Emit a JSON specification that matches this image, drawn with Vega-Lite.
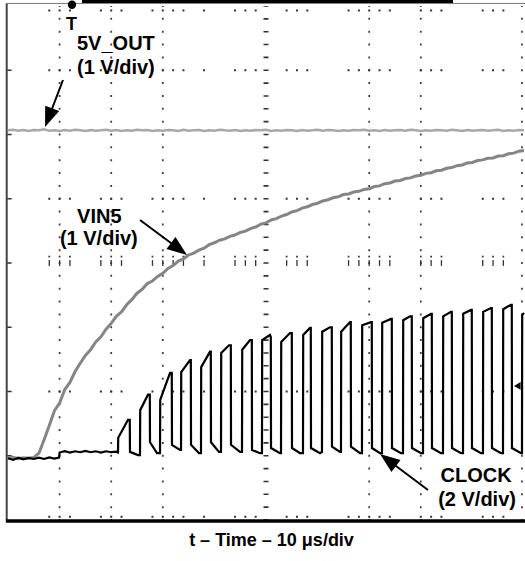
{
  "$schema": "https://vega.github.io/schema/vega-lite/v6.json",
  "width": 516,
  "height": 514,
  "autosize": {"type": "none"},
  "padding": {"left": 8, "top": 6, "right": 1, "bottom": 41},
  "background": "white",
  "config": {"view": {"stroke": null}, "font": "Liberation Sans",
    "axisX": {"domain": false, "ticks": false, "labels": false, "grid": false}},
  "datasets": {
    "gx": [{"t":8},{"t":10},{"t":12},{"t":18},{"t":20},{"t":22},{"t":28},{"t":30},{"t":32},{"t":34},{"t":38},{"t":44},{"t":46},{"t":48},{"t":54},{"t":56},{"t":58},{"t":66},{"t":68},{"t":70},{"t":72},{"t":74},{"t":80},{"t":82},{"t":84},{"t":92},{"t":94},{"t":96}],
    "v5": [{"t":0,"d":6.065},{"t":1,"d":6.075},{"t":2,"d":6.06},{"t":3,"d":6.07},{"t":4,"d":6.055},{"t":5,"d":6.07},{"t":6,"d":6.065},{"t":7,"d":6.08},{"t":8,"d":6.06},{"t":9,"d":6.065},{"t":10,"d":6.055},{"t":11,"d":6.07},{"t":12,"d":6.06},{"t":13,"d":6.075},{"t":14,"d":6.065},{"t":15,"d":6.055},{"t":16,"d":6.07},{"t":17,"d":6.06},{"t":18,"d":6.065},{"t":19,"d":6.075},{"t":20,"d":6.06},{"t":21,"d":6.07},{"t":22,"d":6.055},{"t":23,"d":6.065},{"t":24,"d":6.06},{"t":25,"d":6.075},{"t":26,"d":6.065},{"t":27,"d":6.07},{"t":28,"d":6.055},{"t":29,"d":6.065},{"t":30,"d":6.06},{"t":31,"d":6.07},{"t":32,"d":6.065},{"t":33,"d":6.055},{"t":34,"d":6.075},{"t":35,"d":6.06},{"t":36,"d":6.065},{"t":37,"d":6.07},{"t":38,"d":6.055},{"t":39,"d":6.065},{"t":40,"d":6.06},{"t":41,"d":6.075},{"t":42,"d":6.065},{"t":43,"d":6.06},{"t":44,"d":6.07},{"t":45,"d":6.055},{"t":46,"d":6.065},{"t":47,"d":6.06},{"t":48,"d":6.07},{"t":49,"d":6.065},{"t":50,"d":6.075},{"t":51,"d":6.055},{"t":52,"d":6.065},{"t":53,"d":6.06},{"t":54,"d":6.07},{"t":55,"d":6.065},{"t":56,"d":6.055},{"t":57,"d":6.07},{"t":58,"d":6.06},{"t":59,"d":6.065},{"t":60,"d":6.075},{"t":61,"d":6.06},{"t":62,"d":6.07},{"t":63,"d":6.065},{"t":64,"d":6.055},{"t":65,"d":6.065},{"t":66,"d":6.06},{"t":67,"d":6.07},{"t":68,"d":6.065},{"t":69,"d":6.075},{"t":70,"d":6.06},{"t":71,"d":6.065},{"t":72,"d":6.055},{"t":73,"d":6.07},{"t":74,"d":6.06},{"t":75,"d":6.065},{"t":76,"d":6.07},{"t":77,"d":6.06},{"t":78,"d":6.075},{"t":79,"d":6.065},{"t":80,"d":6.055},{"t":81,"d":6.065},{"t":82,"d":6.06},{"t":83,"d":6.07},{"t":84,"d":6.065},{"t":85,"d":6.06},{"t":86,"d":6.075},{"t":87,"d":6.065},{"t":88,"d":6.055},{"t":89,"d":6.07},{"t":90,"d":6.06},{"t":91,"d":6.065},{"t":92,"d":6.07},{"t":93,"d":6.06},{"t":94,"d":6.065},{"t":95,"d":6.075},{"t":96,"d":6.055},{"t":97,"d":6.065},{"t":98,"d":6.06},{"t":99,"d":6.07},{"t":100,"d":6.065}],
    "vin": [{"t":0,"d":0.96},{"t":1,"d":0.975},{"t":2,"d":0.955},{"t":3,"d":0.97},{"t":4,"d":0.96},{"t":5,"d":0.975},{"t":6,"d":1.04},{"t":7,"d":1.25},{"t":8,"d":1.47},{"t":9,"d":1.7},{"t":10,"d":1.82},{"t":11,"d":2.03},{"t":12,"d":2.14},{"t":13,"d":2.31},{"t":14,"d":2.44},{"t":15,"d":2.56},{"t":16,"d":2.65},{"t":17,"d":2.77},{"t":18,"d":2.85},{"t":19,"d":2.97},{"t":20,"d":3.06},{"t":21,"d":3.17},{"t":22,"d":3.24},{"t":23,"d":3.35},{"t":24,"d":3.43},{"t":25,"d":3.53},{"t":26,"d":3.59},{"t":27,"d":3.68},{"t":28,"d":3.72},{"t":29,"d":3.79},{"t":30,"d":3.84},{"t":31,"d":3.915},{"t":32,"d":3.96},{"t":33,"d":4.03},{"t":34,"d":4.065},{"t":35,"d":4.125},{"t":36,"d":4.155},{"t":37,"d":4.2},{"t":38,"d":4.23},{"t":39,"d":4.285},{"t":40,"d":4.315},{"t":41,"d":4.355},{"t":42,"d":4.375},{"t":43,"d":4.415},{"t":44,"d":4.435},{"t":45,"d":4.475},{"t":46,"d":4.495},{"t":47,"d":4.535},{"t":48,"d":4.56},{"t":49,"d":4.605},{"t":50,"d":4.625},{"t":51,"d":4.67},{"t":52,"d":4.69},{"t":53,"d":4.73},{"t":54,"d":4.755},{"t":55,"d":4.795},{"t":56,"d":4.815},{"t":57,"d":4.855},{"t":58,"d":4.875},{"t":59,"d":4.91},{"t":60,"d":4.93},{"t":61,"d":4.965},{"t":62,"d":4.985},{"t":63,"d":5.015},{"t":64,"d":5.03},{"t":65,"d":5.065},{"t":66,"d":5.075},{"t":67,"d":5.105},{"t":68,"d":5.115},{"t":69,"d":5.145},{"t":70,"d":5.155},{"t":71,"d":5.19},{"t":72,"d":5.2},{"t":73,"d":5.235},{"t":74,"d":5.245},{"t":75,"d":5.275},{"t":76,"d":5.285},{"t":77,"d":5.315},{"t":78,"d":5.325},{"t":79,"d":5.355},{"t":80,"d":5.365},{"t":81,"d":5.395},{"t":82,"d":5.405},{"t":83,"d":5.435},{"t":84,"d":5.445},{"t":85,"d":5.475},{"t":86,"d":5.485},{"t":87,"d":5.515},{"t":88,"d":5.525},{"t":89,"d":5.555},{"t":90,"d":5.565},{"t":91,"d":5.595},{"t":92,"d":5.605},{"t":93,"d":5.63},{"t":94,"d":5.635},{"t":95,"d":5.665},{"t":96,"d":5.67},{"t":97,"d":5.7},{"t":98,"d":5.71},{"t":99,"d":5.74},{"t":100,"d":5.75}],
    "clk": [{"t":0,"d":0.96},{"t":1,"d":0.935},{"t":2,"d":0.97},{"t":3,"d":0.945},{"t":4,"d":0.965},{"t":5,"d":0.95},{"t":6,"d":0.97},{"t":7,"d":0.95},{"t":8,"d":0.975},{"t":9,"d":0.955},{"t":9.9,"d":0.97},{"t":10,"d":1.05},{"t":11,"d":1.07},{"t":12,"d":1.05},{"t":13,"d":1.07},{"t":14,"d":1.055},{"t":15,"d":1.075},{"t":16,"d":1.055},{"t":17,"d":1.07},{"t":18,"d":1.05},{"t":19,"d":1.07},{"t":20,"d":1.055},{"t":21,"d":1.065},{"t":21.3,"d":1.05},
      {"t":21.32,"d":1.05},{"t":21.36,"d":1.28},{"t":23.26,"d":1.56},{"t":23.6,"d":1.56},{"t":23.64,"d":1.06},{"t":25.19,"d":1.01},
      {"t":25.58,"d":1.01},{"t":25.62,"d":1.71},{"t":27.13,"d":1.95},{"t":27.48,"d":1.95},{"t":27.52,"d":1.21},{"t":28.88,"d":1.04},
      {"t":29.46,"d":1.04},{"t":29.5,"d":1.87},{"t":31.4,"d":2.29},{"t":31.74,"d":2.29},{"t":31.78,"d":1.17},{"t":33.33,"d":1.09},
      {"t":33.53,"d":1.09},{"t":33.57,"d":2.3},{"t":35.27,"d":2.49},{"t":35.43,"d":2.49},{"t":35.47,"d":1.17},{"t":37.02,"d":1.04},
      {"t":37.4,"d":1.04},{"t":37.44,"d":2.38},{"t":39.15,"d":2.62},{"t":39.3,"d":2.62},{"t":39.34,"d":1.21},{"t":40.89,"d":1.06},
      {"t":41.28,"d":1.06},{"t":41.32,"d":2.6},{"t":42.83,"d":2.72},{"t":43.18,"d":2.72},{"t":43.22,"d":1.17},{"t":44.96,"d":1.06},
      {"t":45.35,"d":1.06},{"t":45.39,"d":2.65},{"t":46.9,"d":2.8},{"t":47.25,"d":2.8},{"t":47.29,"d":1.09},{"t":48.84,"d":1.04},
      {"t":49.22,"d":1.04},{"t":49.26,"d":2.8},{"t":50.78,"d":2.88},{"t":50.93,"d":2.85},{"t":50.97,"d":1.12},{"t":52.71,"d":1.04},
      {"t":52.91,"d":1.04},{"t":52.95,"d":2.77},{"t":54.65,"d":2.91},{"t":55,"d":2.91},{"t":55.04,"d":1.12},{"t":56.59,"d":1.04},
      {"t":57.17,"d":1.04},{"t":57.21,"d":2.88},{"t":58.53,"d":2.99},{"t":58.68,"d":2.99},{"t":58.72,"d":1.12},{"t":60.47,"d":1.04},
      {"t":60.85,"d":1.06},{"t":60.89,"d":2.93},{"t":62.4,"d":3.0},{"t":62.75,"d":3.0},{"t":62.79,"d":1.14},{"t":64.34,"d":1.06},
      {"t":64.53,"d":1.06},{"t":64.57,"d":2.93},{"t":66.28,"d":3.08},{"t":66.43,"d":3.08},{"t":66.47,"d":1.14},{"t":68.22,"d":1.04},
      {"t":68.6,"d":1.04},{"t":68.64,"d":3.03},{"t":70.35,"d":3.08},{"t":70.5,"d":3.08},{"t":70.54,"d":1.12},{"t":72.09,"d":1.04},
      {"t":72.48,"d":1.04},{"t":72.52,"d":3.07},{"t":74.22,"d":3.13},{"t":74.38,"d":3.13},{"t":74.42,"d":1.12},{"t":76.16,"d":1.04},
      {"t":76.55,"d":1.04},{"t":76.59,"d":3.11},{"t":77.91,"d":3.17},{"t":78.25,"d":3.17},{"t":78.29,"d":1.12},{"t":80.04,"d":1.04},
      {"t":80.43,"d":1.04},{"t":80.47,"d":3.14},{"t":81.98,"d":3.21},{"t":82.13,"d":3.21},{"t":82.17,"d":1.12},{"t":83.91,"d":1.04},
      {"t":84.3,"d":1.04},{"t":84.34,"d":3.17},{"t":85.85,"d":3.24},{"t":86.01,"d":3.24},{"t":86.05,"d":1.12},{"t":87.79,"d":1.04},
      {"t":88.18,"d":1.04},{"t":88.22,"d":3.21},{"t":89.73,"d":3.27},{"t":89.88,"d":3.27},{"t":89.92,"d":1.12},{"t":91.67,"d":1.04},
      {"t":92.05,"d":1.04},{"t":92.09,"d":3.24},{"t":93.6,"d":3.3},{"t":93.76,"d":3.3},{"t":93.8,"d":1.12},{"t":95.54,"d":1.04},
      {"t":95.93,"d":1.04},{"t":95.97,"d":3.28},{"t":97.48,"d":3.35},{"t":97.63,"d":3.35},{"t":97.67,"d":1.12},{"t":99.42,"d":1.04},
      {"t":99.61,"d":1.04},{"t":99.65,"d":3.19},{"t":100,"d":3.22}]
  },
  "layer": [
    {"data": {"values": [{"t":10},{"t":20},{"t":30},{"t":70},{"t":80},{"t":99.6}]},
     "mark": {"type": "rule", "color": "#444", "strokeWidth": 1.8, "strokeDash": [2, 10.85], "strokeDashOffset": 1},
     "encoding": {"x": {"field": "t", "type": "quantitative", "scale": {"domain": [0, 100], "nice": false, "zero": false},
        "axis": {"title": "t – Time – 10 μs/div", "domain": false, "ticks": false, "labels": false, "grid": false,
        "titleFont": "Liberation Sans", "titleFontSize": 18, "titleFontWeight": "bold", "titleColor": "black",
        "titleX": 263, "titleY": 25, "titleBaseline": "alphabetic", "titleAlign": "center"}},
                  "y": {"datum": 0, "type": "quantitative", "scale": {"domain": [0, 8], "nice": false, "zero": false}, "axis": null}, "y2": {"datum": 8}}},
    {"data": {"values": [{"t":50}]},
     "mark": {"type": "rule", "color": "#333", "strokeWidth": 5, "strokeDash": [1.6, 11.25], "strokeDashOffset": 0.8},
     "encoding": {"x": {"field": "t", "type": "quantitative"}, "y": {"datum": 0, "type": "quantitative", "axis": null}, "y2": {"datum": 8}}},
    {"data": {"name": "gx"}, "mark": {"type": "square", "size": 4, "color": "#333", "opacity": 1},
     "encoding": {"x": {"field": "t", "type": "quantitative"}, "y": {"datum": 7.93, "type": "quantitative", "axis": null}}},
    {"data": {"name": "gx"}, "mark": {"type": "square", "size": 4, "color": "#333", "opacity": 1},
     "encoding": {"x": {"field": "t", "type": "quantitative"}, "y": {"datum": 7, "type": "quantitative", "axis": null}}},
    {"data": {"name": "gx"}, "mark": {"type": "square", "size": 4, "color": "#333", "opacity": 1},
     "encoding": {"x": {"field": "t", "type": "quantitative"}, "y": {"datum": 5, "type": "quantitative", "axis": null}}},
    {"data": {"name": "gx"}, "mark": {"type": "square", "size": 4, "color": "#333", "opacity": 1},
     "encoding": {"x": {"field": "t", "type": "quantitative"}, "y": {"datum": 2, "type": "quantitative", "axis": null}}},
    {"data": {"name": "gx"}, "mark": {"type": "square", "size": 4, "color": "#333", "opacity": 1},
     "encoding": {"x": {"field": "t", "type": "quantitative"}, "y": {"datum": 0.05, "type": "quantitative", "axis": null}}},
    {"data": {"name": "gx"}, "mark": {"type": "rule", "color": "#333", "strokeWidth": 1.3},
     "encoding": {"x": {"field": "t", "type": "quantitative"}, "y": {"datum": 3.955, "type": "quantitative", "axis": null}, "y2": {"datum": 4.045}}},
    {"data": {"name": "gx"}, "mark": {"type": "square", "size": 3, "color": "#333", "opacity": 1},
     "encoding": {"x": {"field": "t", "type": "quantitative"}, "y": {"datum": 4.1, "type": "quantitative", "axis": null}}},
    {"data": {"values": [{"d":1},{"d":2},{"d":3},{"d":4},{"d":5},{"d":6},{"d":7}]},
     "mark": {"type": "rule", "color": "#333", "strokeWidth": 1.5},
     "encoding": {"x": {"datum": -0.25, "type": "quantitative"}, "x2": {"datum": 0.7}, "y": {"field": "d", "type": "quantitative", "axis": null}}},
    {"data": {"values": [{"k": 1}]},
     "mark": {"type": "rule", "color": "#444", "strokeWidth": 2},
     "encoding": {"x": {"datum": -0.25, "type": "quantitative"}, "y": {"datum": -0.02, "type": "quantitative", "axis": null}, "y2": {"datum": 8.04}}},
    {"data": {"values": [{"k": 1}]},
     "mark": {"type": "rule", "color": "black", "strokeWidth": 3.5},
     "encoding": {"x": {"datum": -0.4, "type": "quantitative"}, "x2": {"datum": 100.3}, "y": {"datum": -0.015, "type": "quantitative", "axis": null}}},
    {"data": {"values": [{"k": 1}]},
     "mark": {"type": "rule", "color": "#777", "strokeWidth": 1},
     "encoding": {"x": {"datum": -0.4, "type": "quantitative"}, "x2": {"datum": 100.3}, "y": {"datum": 8.04, "type": "quantitative", "axis": null}}},
    {"data": {"values": [{"k": 1}]},
     "mark": {"type": "rule", "color": "black", "strokeWidth": 3},
     "encoding": {"x": {"datum": 14.34, "type": "quantitative"}, "x2": {"datum": 86.24}, "y": {"datum": 8.07, "type": "quantitative", "axis": null}}},
    {"data": {"name": "v5"}, "mark": {"type": "line", "color": "#a8a8a8", "strokeWidth": 2.5},
     "encoding": {"x": {"field": "t", "type": "quantitative"}, "y": {"field": "d", "type": "quantitative", "axis": null}}},
    {"data": {"name": "vin"}, "mark": {"type": "line", "color": "#858585", "strokeWidth": 3},
     "encoding": {"x": {"field": "t", "type": "quantitative"}, "y": {"field": "d", "type": "quantitative", "axis": null}}},
    {"data": {"name": "clk"}, "mark": {"type": "line", "color": "black", "strokeWidth": 2.2},
     "encoding": {"x": {"field": "t", "type": "quantitative"}, "y": {"field": "d", "type": "quantitative", "axis": null}}},
    {"data": {"values": [
       {"t": 10.66, "d": 6.848, "t2": 7.87, "d2": 6.262},
       {"t": 25.58, "d": 4.669, "t2": 33.14, "d2": 4.218},
       {"t": 81.4, "d": 0.467, "t2": 73.64, "d2": 0.934}]},
     "mark": {"type": "rule", "color": "black", "strokeWidth": 2},
     "encoding": {"x": {"field": "t", "type": "quantitative"}, "y": {"field": "d", "type": "quantitative", "axis": null}, "x2": {"field": "t2"}, "y2": {"field": "d2"}}},
    {"data": {"values": [
       {"t": 7.87, "d": 6.262, "a": 201},
       {"t": 33.14, "d": 4.218, "a": 126.7},
       {"t": 73.64, "d": 0.934, "a": 306.9}]},
     "mark": {"type": "point", "shape": "M0,-1L0.75,1L-0.75,1Z", "filled": true, "color": "black", "opacity": 1, "size": 400},
     "encoding": {"x": {"field": "t", "type": "quantitative"}, "y": {"field": "d", "type": "quantitative", "axis": null}, "angle": {"field": "a", "type": "quantitative", "scale": null}}},
    {"data": {"values": [
       {"t": 13.37, "d": 7.315, "label": "5V_OUT"},
       {"t": 13.37, "d": 6.945, "label": "(1 V/div)"}]},
     "mark": {"type": "text", "align": "left", "baseline": "alphabetic", "font": "Liberation Sans", "fontSize": 20, "fontWeight": "bold", "color": "black"},
     "encoding": {"x": {"field": "t", "type": "quantitative"}, "y": {"field": "d", "type": "quantitative", "axis": null}, "text": {"field": "label"}}},
    {"data": {"values": [
       {"t": 17.7, "d": 4.62, "label": "VIN5"},
       {"t": 17.6, "d": 4.28, "label": "(1 V/div)"},
       {"t": 90.7, "d": 0.59, "label": "CLOCK"},
       {"t": 90.9, "d": 0.215, "label": "(2 V/div)"}]},
     "mark": {"type": "text", "align": "center", "baseline": "alphabetic", "font": "Liberation Sans", "fontSize": 20, "fontWeight": "bold", "color": "black"},
     "encoding": {"x": {"field": "t", "type": "quantitative"}, "y": {"field": "d", "type": "quantitative", "axis": null}, "text": {"field": "label"}}},
    {"data": {"values": [{"t": 12.4, "d": 8.02}]},
     "mark": {"type": "point", "shape": "circle", "filled": true, "color": "black", "opacity": 1, "size": 70},
     "encoding": {"x": {"field": "t", "type": "quantitative"}, "y": {"field": "d", "type": "quantitative", "axis": null}}},
    {"data": {"values": [{"t": 12.3, "d": 7.63, "label": "T"}]},
     "mark": {"type": "text", "align": "center", "baseline": "alphabetic", "font": "Liberation Sans", "fontSize": 18, "fontWeight": "bold", "color": "black"},
     "encoding": {"x": {"field": "t", "type": "quantitative"}, "y": {"field": "d", "type": "quantitative", "axis": null}, "text": {"field": "label"}}},
    {"data": {"values": [{"t": 98.7, "d": 2.086}]},
     "mark": {"type": "point", "shape": "triangle-left", "filled": true, "color": "black", "opacity": 1, "size": 60},
     "encoding": {"x": {"field": "t", "type": "quantitative"}, "y": {"field": "d", "type": "quantitative", "axis": null}}}
  ]
}
